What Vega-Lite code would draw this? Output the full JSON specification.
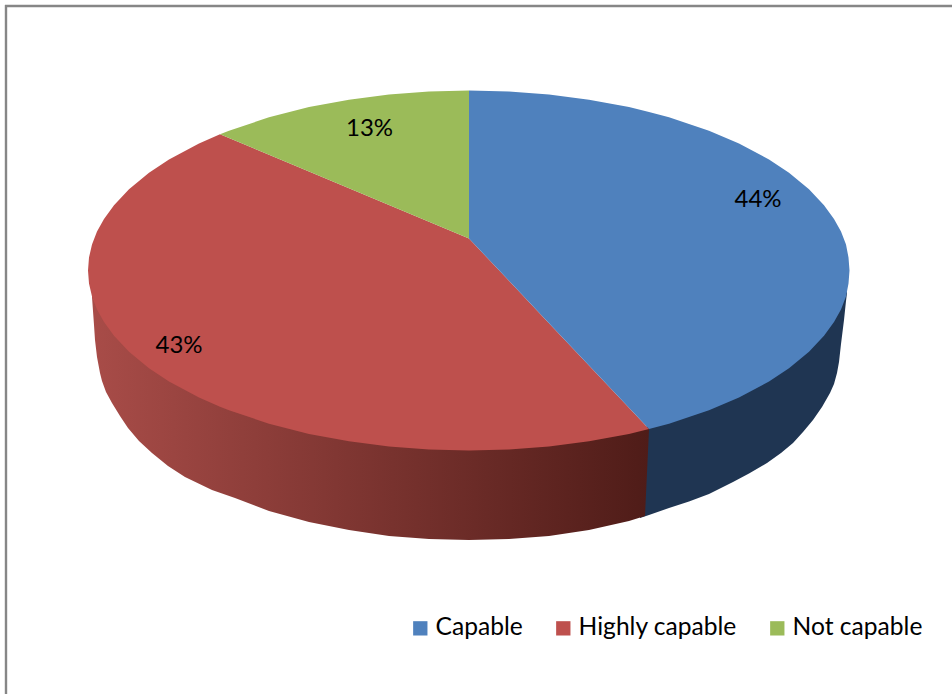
{
  "$schema": "https://vega.github.io/schema/vega-lite/v6.json",
  "width": 952,
  "height": 694,
  "padding": 0,
  "autosize": "none",
  "background": "#ffffff",
  "config": {"view": {"stroke": null}},
  "datasets": {
    "tops": [
      {"slice":"Highly capable","x":88,"top":270.5,"bottom":270.5},
      {"slice":"Highly capable","x":89,"top":257.5,"bottom":283.5},
      {"slice":"Highly capable","x":92,"top":244.5,"bottom":296.5},
      {"slice":"Highly capable","x":97,"top":231.6,"bottom":309.4},
      {"slice":"Highly capable","x":104,"top":218.9,"bottom":322.1},
      {"slice":"Highly capable","x":114,"top":205.2,"bottom":335.8},
      {"slice":"Highly capable","x":129,"top":189.2,"bottom":351.8},
      {"slice":"Highly capable","x":149,"top":172.8,"bottom":368.2},
      {"slice":"Highly capable","x":169,"top":159.5,"bottom":381.5},
      {"slice":"Highly capable","x":199,"top":143.5,"bottom":397.5},
      {"slice":"Highly capable","x":220,"top":134.3,"bottom":406.7},
      {"slice":"Highly capable","x":229,"top":138.1,"bottom":410.3},
      {"slice":"Highly capable","x":269,"top":154.8,"bottom":423.7},
      {"slice":"Highly capable","x":309,"top":171.5,"bottom":433.9},
      {"slice":"Highly capable","x":349,"top":188.3,"bottom":441.3},
      {"slice":"Highly capable","x":389,"top":205,"bottom":446.5},
      {"slice":"Highly capable","x":429,"top":221.8,"bottom":449.5},
      {"slice":"Highly capable","x":469,"top":238.5,"bottom":450.5},
      {"slice":"Highly capable","x":509,"top":280.8,"bottom":449.5},
      {"slice":"Highly capable","x":549,"top":323.2,"bottom":446.5},
      {"slice":"Highly capable","x":589,"top":365.5,"bottom":441.3},
      {"slice":"Highly capable","x":629,"top":407.8,"bottom":433.9},
      {"slice":"Highly capable","x":649,"top":429.1,"bottom":429.1},

      {"slice":"Capable","x":469,"top":90.5,"bottom":238.5},
      {"slice":"Capable","x":509,"top":91.5,"bottom":280.8},
      {"slice":"Capable","x":549,"top":94.5,"bottom":323.2},
      {"slice":"Capable","x":589,"top":99.7,"bottom":365.5},
      {"slice":"Capable","x":629,"top":107.1,"bottom":407.8},
      {"slice":"Capable","x":649,"top":111.9,"bottom":429.1},
      {"slice":"Capable","x":669,"top":117.3,"bottom":423.7},
      {"slice":"Capable","x":709,"top":130.7,"bottom":410.3},
      {"slice":"Capable","x":739,"top":143.5,"bottom":397.5},
      {"slice":"Capable","x":769,"top":159.5,"bottom":381.5},
      {"slice":"Capable","x":789,"top":172.8,"bottom":368.2},
      {"slice":"Capable","x":809,"top":189.2,"bottom":351.8},
      {"slice":"Capable","x":824,"top":205.2,"bottom":335.8},
      {"slice":"Capable","x":834,"top":218.9,"bottom":322.1},
      {"slice":"Capable","x":841,"top":231.6,"bottom":309.4},
      {"slice":"Capable","x":846,"top":244.5,"bottom":296.5},
      {"slice":"Capable","x":848.5,"top":257.5,"bottom":283.5},
      {"slice":"Capable","x":849.5,"top":270.5,"bottom":270.5},

      {"slice":"Not capable","x":220,"top":134.3,"bottom":134.3},
      {"slice":"Not capable","x":229,"top":130.7,"bottom":138.1},
      {"slice":"Not capable","x":269,"top":117.3,"bottom":154.8},
      {"slice":"Not capable","x":309,"top":107.1,"bottom":171.5},
      {"slice":"Not capable","x":349,"top":99.7,"bottom":188.3},
      {"slice":"Not capable","x":389,"top":94.5,"bottom":205},
      {"slice":"Not capable","x":429,"top":91.5,"bottom":221.8},
      {"slice":"Not capable","x":469,"top":90.5,"bottom":238.5}
    ],
    "capableWall": [
      {"x":640,"top":428,"bottom":518},
      {"x":649,"top":426,"bottom":515},
      {"x":669,"top":420,"bottom":508},
      {"x":689,"top":414,"bottom":501.5},
      {"x":709,"top":407,"bottom":494},
      {"x":733,"top":397,"bottom":482},
      {"x":749,"top":389,"bottom":473.5},
      {"x":767,"top":379,"bottom":463},
      {"x":781,"top":371,"bottom":453},
      {"x":793,"top":362,"bottom":443},
      {"x":803,"top":354,"bottom":432},
      {"x":813,"top":345,"bottom":420},
      {"x":822,"top":335,"bottom":407},
      {"x":830,"top":325,"bottom":393},
      {"x":834,"top":319,"bottom":384},
      {"x":837,"top":314,"bottom":373},
      {"x":839,"top":310,"bottom":362},
      {"x":841,"top":306,"bottom":344},
      {"x":844,"top":299,"bottom":320},
      {"x":846,"top":293,"bottom":301},
      {"x":847,"top":290,"bottom":293}
    ],
    "highlyWall": [
      {"x":92,"top":293,"bottom":297},
      {"x":94,"top":300,"bottom":325},
      {"x":95,"top":302,"bottom":340},
      {"x":97,"top":306,"bottom":357},
      {"x":100,"top":312,"bottom":373},
      {"x":102,"top":315,"bottom":381},
      {"x":106,"top":322,"bottom":392},
      {"x":112,"top":330,"bottom":403},
      {"x":120,"top":340,"bottom":416},
      {"x":128,"top":348,"bottom":428},
      {"x":139,"top":358,"bottom":441},
      {"x":152,"top":367,"bottom":453},
      {"x":168,"top":378,"bottom":466},
      {"x":185,"top":388,"bottom":477},
      {"x":212,"top":400,"bottom":490},
      {"x":235,"top":409,"bottom":498},
      {"x":269,"top":420,"bottom":511},
      {"x":309,"top":431,"bottom":522},
      {"x":349,"top":438,"bottom":530},
      {"x":389,"top":443,"bottom":536},
      {"x":429,"top":446,"bottom":539},
      {"x":469,"top":447,"bottom":540},
      {"x":509,"top":446,"bottom":539},
      {"x":549,"top":443,"bottom":536},
      {"x":589,"top":438,"bottom":530},
      {"x":629,"top":431,"bottom":521},
      {"x":645,"top":428,"bottom":516},
      {"x":649,"top":426,"bottom":430}
    ],
    "shares": [
      {"slice":"Capable","share":0.44,"labelX":758,"labelY":200},
      {"slice":"Highly capable","share":0.43,"labelX":179,"labelY":346},
      {"slice":"Not capable","share":0.13,"labelX":369.5,"labelY":129}
    ]
  },
  "encoding": {
    "x": {"field":"x","type":"quantitative","scale":{"domain":[0,952],"nice":false,"zero":false},"axis":null},
    "y": {"field":"top","type":"quantitative","scale":{"domain":[694,0],"nice":false,"zero":false},"axis":null}
  },
  "layer": [
    {
      "description": "Frame line down the left side",
      "data": {"values":[{"x":6,"top":5,"bottom":694}]},
      "mark": {"type":"rule","color":"#868686","strokeWidth":2.4},
      "encoding": {"y2":{"field":"bottom"}}
    },
    {
      "description": "Frame line along the top",
      "data": {"values":[{"x":5,"x2":952,"top":6}]},
      "mark": {"type":"rule","color":"#868686","strokeWidth":2.4},
      "encoding": {"x2":{"field":"x2"}}
    },
    {
      "description": "Wall under the blue slice",
      "data": {"name":"capableWall"},
      "mark": {"type":"area","orient":"vertical","color":"#1f3552","opacity":1},
      "encoding": {"y2":{"field":"bottom"}}
    },
    {
      "description": "Wall under the red slice, shaded towards the right",
      "data": {"name":"highlyWall"},
      "mark": {
        "type":"area","orient":"vertical","opacity":1,
        "color":{"gradient":"linear","x1":0,"x2":1,"y1":0,"y2":0,
          "stops":[{"offset":0,"color":"#a84c48"},{"offset":1,"color":"#4f1c18"}]}
      },
      "encoding": {"y2":{"field":"bottom"}}
    },
    {
      "description": "Upper faces of the three slices",
      "data": {"name":"tops"},
      "mark": {"type":"area","orient":"vertical","opacity":1},
      "encoding": {
        "y2":{"field":"bottom"},
        "color":{
          "field":"slice","type":"nominal",
          "scale":{"domain":["Capable","Highly capable","Not capable"],"range":["#4f81bd","#be504d","#9bbb59"]},
          "legend":{
            "title":null,"orient":"none","legendX":408,"legendY":616,"direction":"horizontal",
            "symbolType":"square","symbolSize":205,"symbolStrokeWidth":0,"symbolOpacity":1,
            "labelFont":"Lato","labelFontSize":24.6,"labelColor":"#000000","labelLimit":300,"labelOffset":3,
            "columnPadding":28
          }
        }
      }
    },
    {
      "description": "Percentage on each slice",
      "data": {"name":"shares"},
      "mark": {"type":"text","font":"Lato","fontSize":24,"color":"#000000","baseline":"middle","align":"center"},
      "encoding": {
        "x":{"field":"labelX","type":"quantitative"},
        "y":{"field":"labelY","type":"quantitative"},
        "text":{"field":"share","type":"quantitative","format":".0%"}
      }
    }
  ]
}
